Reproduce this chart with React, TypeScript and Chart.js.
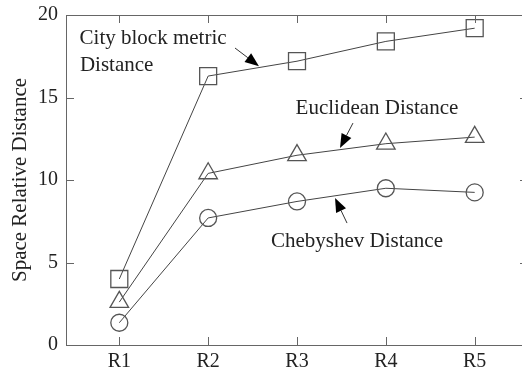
import React, { useEffect, useRef } from "react";
import { Chart, registerables } from "chart.js";

Chart.register(...registerables);

const categories = ["R1", "R2", "R3", "R4", "R5"];
const cityBlock = [4.0, 16.3, 17.2, 18.4, 19.2];
const euclidean = [2.6, 10.4, 11.5, 12.2, 12.6];
const chebyshev = [1.35, 7.7, 8.7, 9.5, 9.25];
const yTicks = [0, 5, 10, 15, 20];

const labels = [
  { text: "City block metric", x: 1.38, y: 18.6 },
  { text: "Distance", x: 0.97, y: 16.97 },
  { text: "Euclidean Distance", x: 3.9, y: 14.36 },
  { text: "Chebyshev Distance", x: 3.675, y: 6.3 },
];
const arrows = [
  { x0: 2.302, y0: 18.0, x1: 2.572, y1: 16.9 },
  { x0: 3.63, y0: 13.45, x1: 3.484, y1: 11.94 },
  { x0: 3.563, y0: 7.39, x1: 3.428, y1: 8.91 },
];

const FONT = "'Liberation Serif', 'Times New Roman', serif";
const AXIS_COLOR = "#666";

const framePlugin = {
  id: "frame",
  afterDraw(chart: any) {
    const { ctx, chartArea: a, scales } = chart;
    const xs = scales.x;
    const ys = scales.y;
    ctx.save();
    ctx.strokeStyle = AXIS_COLOR;
    ctx.lineWidth = 1;
    ctx.beginPath();
    ctx.rect(a.left + 0.5, a.top + 0.5, a.right - a.left, a.bottom - a.top);
    ctx.stroke();
    const tl = 8;
    ctx.beginPath();
    categories.forEach((_, i) => {
      const px = Math.round(xs.getPixelForValue(i + 1)) + 0.5;
      ctx.moveTo(px, a.bottom);
      ctx.lineTo(px, a.bottom - tl);
      ctx.moveTo(px, a.top);
      ctx.lineTo(px, a.top + tl);
    });
    yTicks.forEach((v) => {
      const py = Math.round(ys.getPixelForValue(v)) + 0.5;
      ctx.moveTo(a.left, py);
      ctx.lineTo(a.left + tl, py);
      ctx.moveTo(a.right, py);
      ctx.lineTo(a.right - tl, py);
    });
    ctx.stroke();

    ctx.fillStyle = "#222";
    ctx.font = `21px ${FONT}`;
    ctx.textAlign = "center";
    ctx.textBaseline = "middle";
    labels.forEach((l) => {
      ctx.fillText(l.text, xs.getPixelForValue(l.x), ys.getPixelForValue(l.y));
    });
    ctx.strokeStyle = "#333";
    ctx.fillStyle = "#000";
    arrows.forEach((ar) => {
      const x0 = xs.getPixelForValue(ar.x0);
      const y0 = ys.getPixelForValue(ar.y0);
      const x1 = xs.getPixelForValue(ar.x1);
      const y1 = ys.getPixelForValue(ar.y1);
      const ang = Math.atan2(y1 - y0, x1 - x0);
      const hl = 14;
      const hw = 5.5;
      const bx = x1 - hl * Math.cos(ang);
      const by = y1 - hl * Math.sin(ang);
      ctx.beginPath();
      ctx.moveTo(x0, y0);
      ctx.lineTo(bx, by);
      ctx.stroke();
      ctx.beginPath();
      ctx.moveTo(x1, y1);
      ctx.lineTo(bx + hw * Math.sin(ang), by - hw * Math.cos(ang));
      ctx.lineTo(bx - hw * Math.sin(ang), by + hw * Math.cos(ang));
      ctx.closePath();
      ctx.fill();
    });
    ctx.restore();
  },
};

function series(label: string, values: number[], style: string, radius: number) {
  return {
    label,
    data: values.map((v, i) => ({ x: i + 1, y: v })),
    borderColor: "#444",
    borderWidth: 1,
    pointStyle: style,
    pointRadius: radius,
    pointBorderColor: "#555",
    pointBackgroundColor: "rgba(0,0,0,0)",
    pointBorderWidth: 1.3,
    tension: 0,
  };
}

function zeroPadding(s: any) {
  s.paddingTop = 0;
  s.paddingBottom = 0;
  s.paddingLeft = 0;
  s.paddingRight = 0;
}

export default function App() {
  const ref = useRef<HTMLCanvasElement | null>(null);
  useEffect(() => {
    if (!ref.current) return;
    const chart = new Chart(ref.current, {
      type: "line",
      data: {
        datasets: [
          series("City block metric Distance", cityBlock, "rect", 12),
          series("Euclidean Distance", euclidean, "triangle", 10.7),
          series("Chebyshev Distance", chebyshev, "circle", 8.5),
        ] as any,
      },
      options: {
        animation: false,
        responsive: false,
        maintainAspectRatio: false,
        layout: { autoPadding: false, padding: { top: 15, right: 2, left: 0, bottom: 0 } },
        plugins: { legend: { display: false }, tooltip: { enabled: false } },
        scales: {
          x: {
            type: "linear",
            min: 0.4,
            max: 5.6,
            afterFit: (s: any) => {
              s.height = 28;
              zeroPadding(s);
            },
            afterBuildTicks: (s: any) => {
              s.ticks = categories.map((_, i) => ({ value: i + 1 }));
            },
            ticks: {
              callback: (v: any) => categories[Math.round(Number(v)) - 1] ?? "",
              font: { family: FONT, size: 20 },
              color: "#222",
              padding: 5,
              maxRotation: 0,
            },
            grid: { display: false, drawTicks: false },
            border: { display: false },
          },
          y: {
            min: 0,
            max: 20,
            afterFit: (s: any) => {
              s.width = 66;
              zeroPadding(s);
            },
            afterBuildTicks: (s: any) => {
              s.ticks = yTicks.map((v) => ({ value: v }));
            },
            ticks: {
              font: { family: FONT, size: 20 },
              color: "#222",
              padding: 8,
            },
            title: {
              display: true,
              text: "Space Relative Distance",
              font: { family: FONT, size: 21 },
              color: "#222",
              padding: { top: 8, bottom: 0 },
            },
            grid: { display: false, drawTicks: false },
            border: { display: false },
          },
        },
      },
      plugins: [framePlugin],
    } as any);
    return () => chart.destroy();
  }, []);
  return (
    <div style={{ position: "fixed", left: 0, top: 0, width: 530, height: 373, background: "#fff" }}>
      <canvas ref={ref} width={530} height={373} style={{ width: 530, height: 373 }} />
    </div>
  );
}
